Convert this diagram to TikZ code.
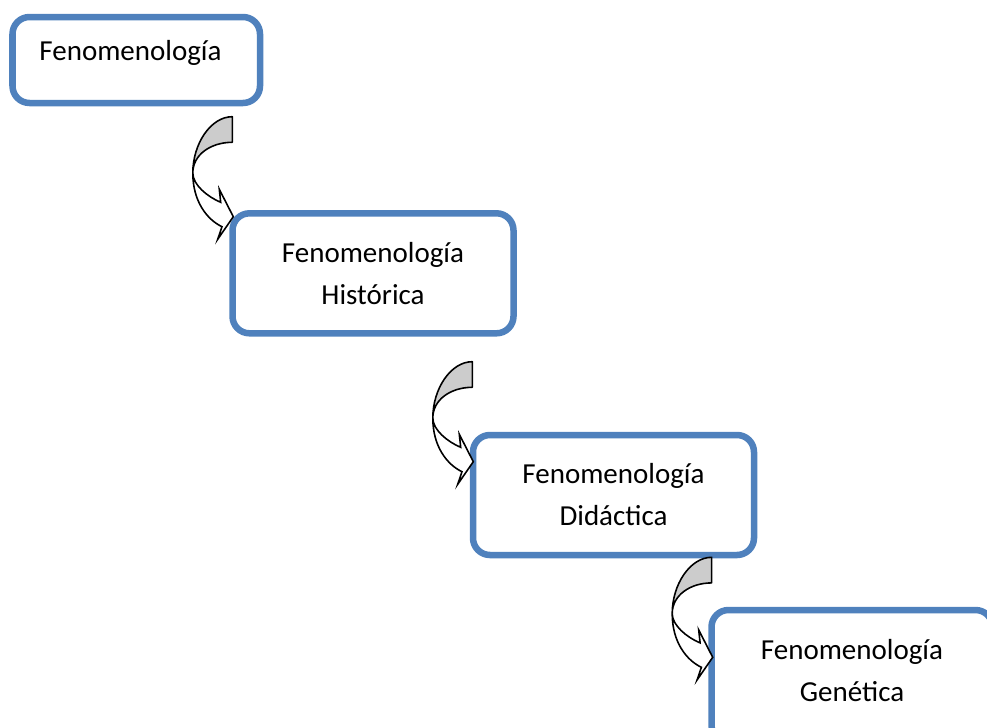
\documentclass[tikz,border=0pt]{standalone}
\usepackage{fontspec}
\setmainfont{Carlito}
\usepackage{tikz}
\usetikzlibrary{positioning}
\definecolor{azul}{RGB}{79,129,189}
\tikzset{
caja/.style=
    { % Sets the properties for each box
        draw=azul,
        line width=1.85pt,
        rounded corners=0.17cm,
        fill=white,
        align=center,
        font=\fontsize{8.25}{11.95}\selectfont
    },
    texto/.style={font=\fontsize{8.25}{11.95}\selectfont}, % Label of the first box
    flecha/.pic={ % Curved arrow, origin at its top right corner
        \draw[line width=0.45pt,fill=black!20,line join=round]
            (0,0) .. controls (-0.215,0) and (-0.395,-0.27) .. (-0.395,-0.563)
            .. controls (-0.395,-0.38) and (-0.215,-0.256) .. (0,-0.256) -- cycle;
        \draw[line width=0.45pt,fill=white,line join=miter]
            (-0.395,-0.563) .. controls (-0.395,-0.85) and (-0.25,-1.03) .. (-0.103,-1.10)
            -- (-0.146,-1.226) -- (0.01,-1.0) -- (-0.13,-0.726) -- (-0.116,-0.856)
            .. controls (-0.25,-0.80) and (-0.395,-0.68) .. (-0.395,-0.563) -- cycle;
    }
}
\begin{document}
\begin{tikzpicture}
\useasboundingbox (0,0) rectangle (9.87,-7.27);
\clip (0,0) rectangle (9.87,-7.27);
\node [caja,minimum width=2.475cm,minimum height=0.86cm] (1) at (1.3625,-0.60) {};
\node [texto] (t1) at (1.305,-0.525) {Fenomenología};
\node [caja,minimum width=2.81cm,minimum height=1.20cm] (2) at (3.73,-2.733) {Fenomenología\\Histórica};
\node [caja,minimum width=2.81cm,minimum height=1.20cm] (3) at (6.135,-4.95) {Fenomenología\\Didáctica};
\node [caja,minimum width=2.81cm,minimum height=1.32cm,text depth=0.12cm] (4) at (8.52,-6.76) {Fenomenología\\Genética};

%%%%%%%%%%%%%%%%%%%%%%%%%%%%%%%%%%
\pic at (2.323,-1.167) {flecha};
\pic at (4.723,-3.617) {flecha};
\pic at (7.117,-5.573) {flecha};
\end{tikzpicture}
\end{document}
